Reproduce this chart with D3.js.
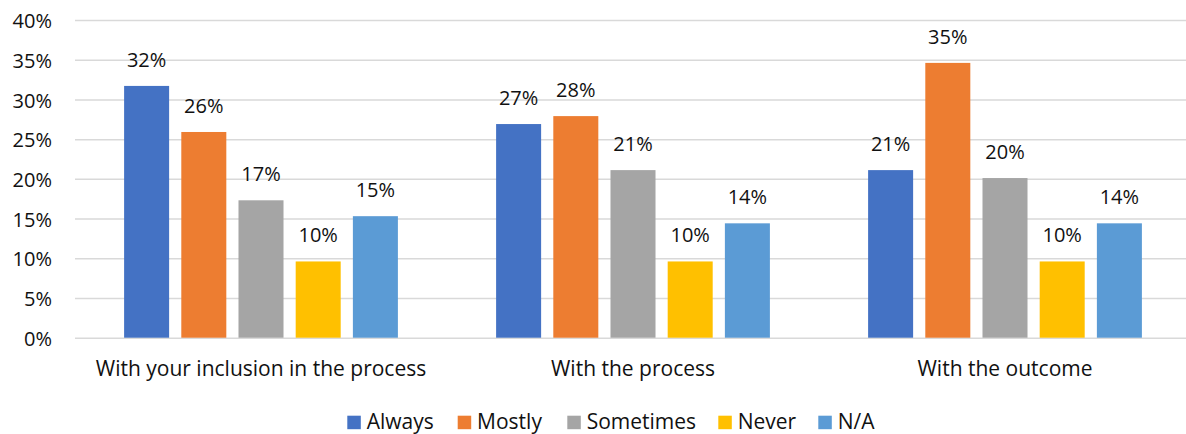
<!DOCTYPE html>
<html><head><meta charset="utf-8">
<script src="https://cdn.jsdelivr.net/npm/d3@7"></script>
<style>
html,body{margin:0;padding:0;background:#fff;}
svg{display:block;font-family:"Open Sans", sans-serif;}
</style></head>
<body>
<svg id="chart" width="1186" height="434"></svg>
<script>
const categories = ["With your inclusion in the process", "With the process", "With the outcome"];
const seriesNames = ["Always", "Mostly", "Sometimes", "Never", "N/A"];
const always    = [31.7, 26.9, 21.1];
const mostly    = [25.9, 27.9, 34.6];
const sometimes = [17.3, 21.1, 20.1];
const never     = [9.6, 9.6, 9.6];
const na        = [15.3, 14.4, 14.4];
const yTicks = [0, 5, 10, 15, 20, 25, 30, 35, 40];
const colors = ["#4472C4", "#ED7D31", "#A5A5A5", "#FFC000", "#5B9BD5"];

const seriesValues = [always, mostly, sometimes, never, na];
const data = categories.map((c, i) => ({
  category: c,
  values: seriesNames.map((s, j) => ({series: s, value: seriesValues[j][i]}))
}));

const svg = d3.select("#chart");
const mLeft = 75, mRight = 1191, mTop = 20, mBottom = 337.7;
const fontFam = "'Open Sans', sans-serif";
const txtCol = "#111";

const y = d3.scaleLinear().domain([0, 40]).range([mBottom, mTop]);
const x0 = d3.scaleBand().domain(categories).range([mLeft, mRight]).paddingInner(0.264).paddingOuter(0.132);
const x1 = d3.scaleBand().domain(seriesNames).range([0, x0.bandwidth()]).paddingInner(0.213).paddingOuter(0);
const color = d3.scaleOrdinal().domain(seriesNames).range(colors);

// gridlines + y labels
const yAxis = svg.append("g").attr("transform", `translate(${mLeft},0)`)
  .call(d3.axisLeft(y).tickValues(yTicks).tickFormat(d => d + "%").tickSize(-(mRight - mLeft)).tickPadding(23));
yAxis.select(".domain").remove();
yAxis.selectAll(".tick line").attr("stroke", "#D9D9D9").attr("stroke-width", 1.5);
yAxis.selectAll(".tick text").attr("font-size", 20).attr("fill", txtCol).attr("font-family", fontFam).attr("dy", "0.38em");

// bars
const groups = svg.append("g").selectAll("g").data(data).join("g")
  .attr("transform", d => `translate(${x0(d.category)},0)`);
groups.selectAll("rect").data(d => d.values).join("rect")
  .attr("x", d => x1(d.series))
  .attr("y", d => y(d.value))
  .attr("width", x1.bandwidth())
  .attr("height", d => y(0) - y(d.value))
  .attr("fill", d => color(d.series));
groups.selectAll("text").data(d => d.values).join("text")
  .attr("x", d => x1(d.series) + x1.bandwidth() / 2)
  .attr("y", d => y(d.value) - 19)
  .attr("text-anchor", "middle")
  .attr("font-size", 20)
  .attr("fill", txtCol)
  .text(d => Math.round(d.value) + "%");

// x axis labels
const xAxis = svg.append("g").attr("transform", `translate(0,${mBottom})`)
  .call(d3.axisBottom(x0).tickSize(0).tickPadding(23.4));
xAxis.select(".domain").remove();
xAxis.selectAll(".tick text").attr("font-size", 21).attr("fill", txtCol).attr("font-family", fontFam);

// legend
const legendX = [347.3, 457.7, 567.3, 718.3, 818.3];
const legend = svg.append("g").selectAll("g").data(seriesNames).join("g")
  .attr("transform", (d, i) => `translate(${legendX[i]},415.7)`);
legend.append("rect").attr("width", 13.5).attr("height", 13.5).attr("fill", d => color(d));
legend.append("text").attr("x", 19.4).attr("y", 13.3).attr("font-size", 21).attr("fill", txtCol).text(d => d);
</script>
</body></html>
